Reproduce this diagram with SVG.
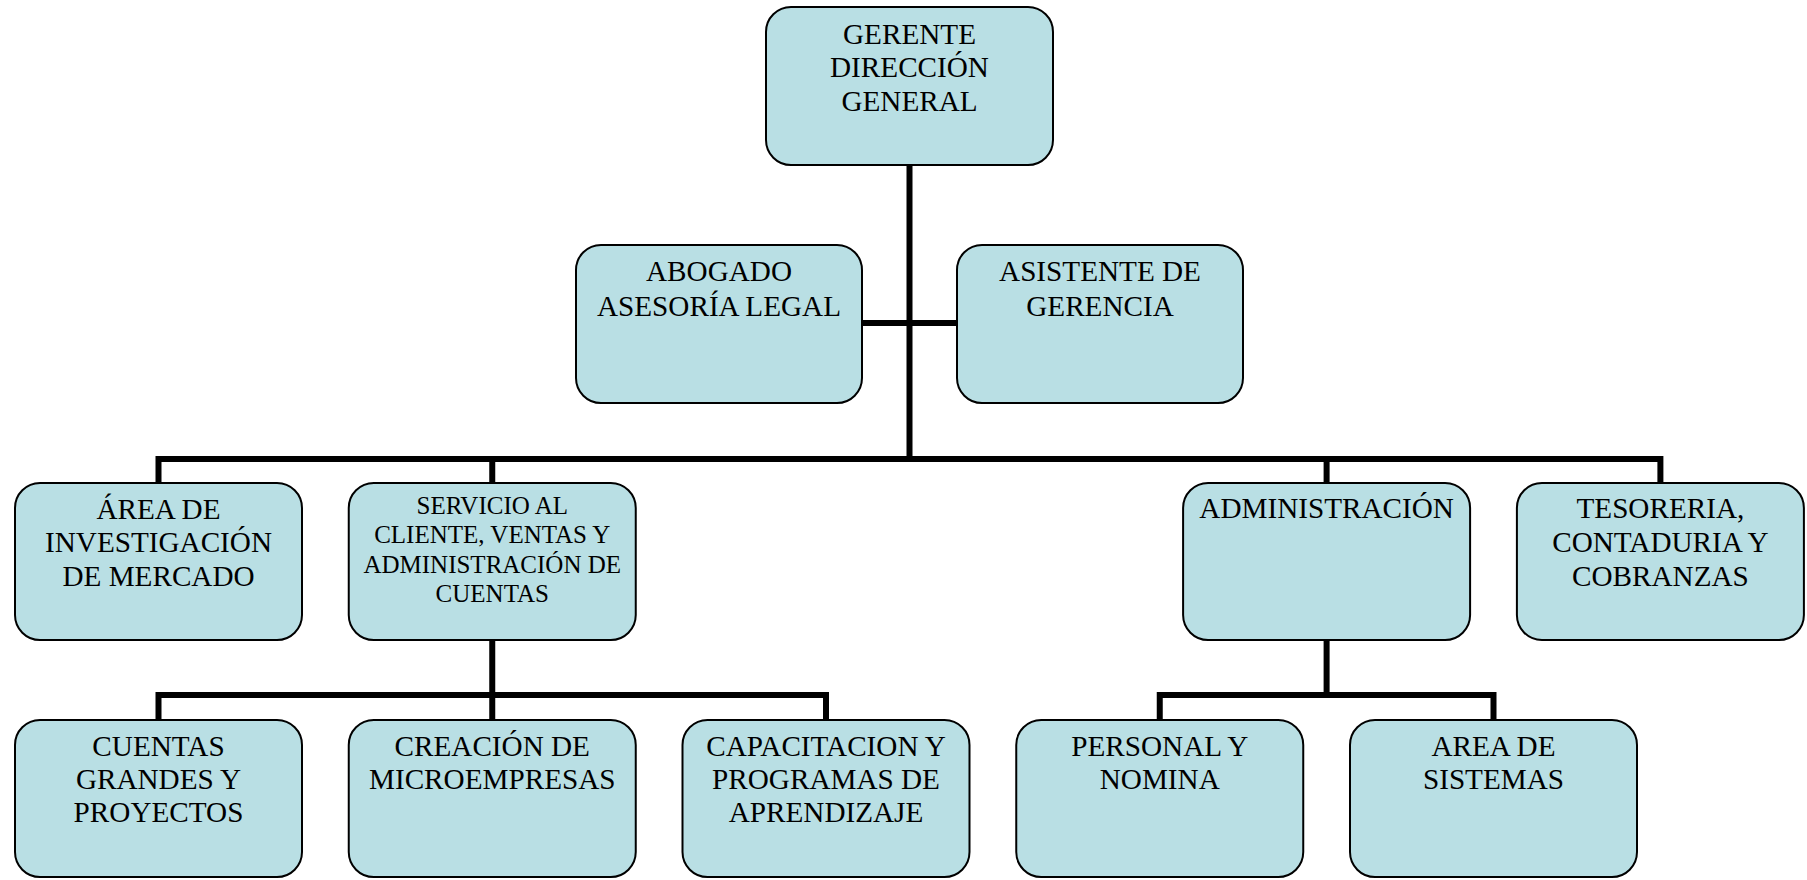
<svg xmlns="http://www.w3.org/2000/svg" width="1807" height="880" viewBox="0 0 1807 880">
<style>
.box{fill:#B9DFE4;stroke:#000;stroke-width:2}
.t{font-family:"Liberation Serif","Times New Roman",serif;font-size:29.2px;fill:#000;text-anchor:middle}
.s{font-size:25px}
.c{stroke:#000;stroke-width:6;fill:none;stroke-linecap:butt}
</style>
<rect width="1807" height="880" fill="#fff"/>
<g id="connectors">
<path class="c" d="M909.5 165V459"/>
<path class="c" d="M861 323H957"/>
<path class="c" d="M158.5 483V459H1660.4V483M492.25 459V483M1326.6 459V483"/>
<path class="c" d="M492.25 640V720M158.5 720V695H826V720"/>
<path class="c" d="M1326.6 640V695M1159.75 720V695H1493.5V720"/>
</g>
<g id="gerente">
<rect class="box" x="766" y="7" width="287" height="158" rx="25"/>
<text class="t" x="909.5" y="43.5">GERENTE</text>
<text class="t" x="909.5" y="77">DIRECCIÓN</text>
<text class="t" x="909.5" y="110.5">GENERAL</text>
</g>
<g id="abogado">
<rect class="box" x="576" y="245" width="286" height="158" rx="25"/>
<text class="t" x="719" y="281">ABOGADO</text>
<text class="t" x="719" y="315.5">ASESORÍA LEGAL</text>
</g>
<g id="asistente">
<rect class="box" x="957" y="245" width="286" height="158" rx="25"/>
<text class="t" x="1100" y="281">ASISTENTE DE</text>
<text class="t" x="1100" y="315.5">GERENCIA</text>
</g>
<g id="area-investigacion">
<rect class="box" x="15" y="483" width="287" height="157" rx="25"/>
<text class="t" x="158.5" y="518.5">ÁREA DE</text>
<text class="t" x="158.5" y="552">INVESTIGACIÓN</text>
<text class="t" x="158.5" y="585.5">DE MERCADO</text>
</g>
<g id="servicio">
<rect class="box" x="348.75" y="483" width="287" height="157" rx="25"/>
<text class="t s" x="492.25" y="513.5">SERVICIO AL</text>
<text class="t s" x="492.25" y="543">CLIENTE, VENTAS Y</text>
<text class="t s" x="492.25" y="572.5">ADMINISTRACIÓN DE</text>
<text class="t s" x="492.25" y="602">CUENTAS</text>
</g>
<g id="administracion">
<rect class="box" x="1183.1" y="483" width="287" height="157" rx="25"/>
<text class="t" x="1326.6" y="518">ADMINISTRACIÓN</text>
</g>
<g id="tesoreria">
<rect class="box" x="1516.9" y="483" width="287" height="157" rx="25"/>
<text class="t" x="1660.4" y="518">TESORERIA,</text>
<text class="t" x="1660.4" y="551.5">CONTADURIA Y</text>
<text class="t" x="1660.4" y="585.5">COBRANZAS</text>
</g>
<g id="cuentas-grandes">
<rect class="box" x="15" y="720" width="287" height="157" rx="25"/>
<text class="t" x="158.5" y="755.5">CUENTAS</text>
<text class="t" x="158.5" y="789">GRANDES Y</text>
<text class="t" x="158.5" y="822">PROYECTOS</text>
</g>
<g id="creacion">
<rect class="box" x="348.75" y="720" width="287" height="157" rx="25"/>
<text class="t" x="492.25" y="755.5">CREACIÓN DE</text>
<text class="t" x="492.25" y="789">MICROEMPRESAS</text>
</g>
<g id="capacitacion">
<rect class="box" x="682.5" y="720" width="287" height="157" rx="25"/>
<text class="t" x="826" y="755.5">CAPACITACION Y</text>
<text class="t" x="826" y="789">PROGRAMAS DE</text>
<text class="t" x="826" y="822">APRENDIZAJE</text>
</g>
<g id="personal">
<rect class="box" x="1016.25" y="720" width="287" height="157" rx="25"/>
<text class="t" x="1159.75" y="755.5">PERSONAL Y</text>
<text class="t" x="1159.75" y="789">NOMINA</text>
</g>
<g id="sistemas">
<rect class="box" x="1350" y="720" width="287" height="157" rx="25"/>
<text class="t" x="1493.5" y="755.5">AREA DE</text>
<text class="t" x="1493.5" y="789">SISTEMAS</text>
</g>
</svg>
